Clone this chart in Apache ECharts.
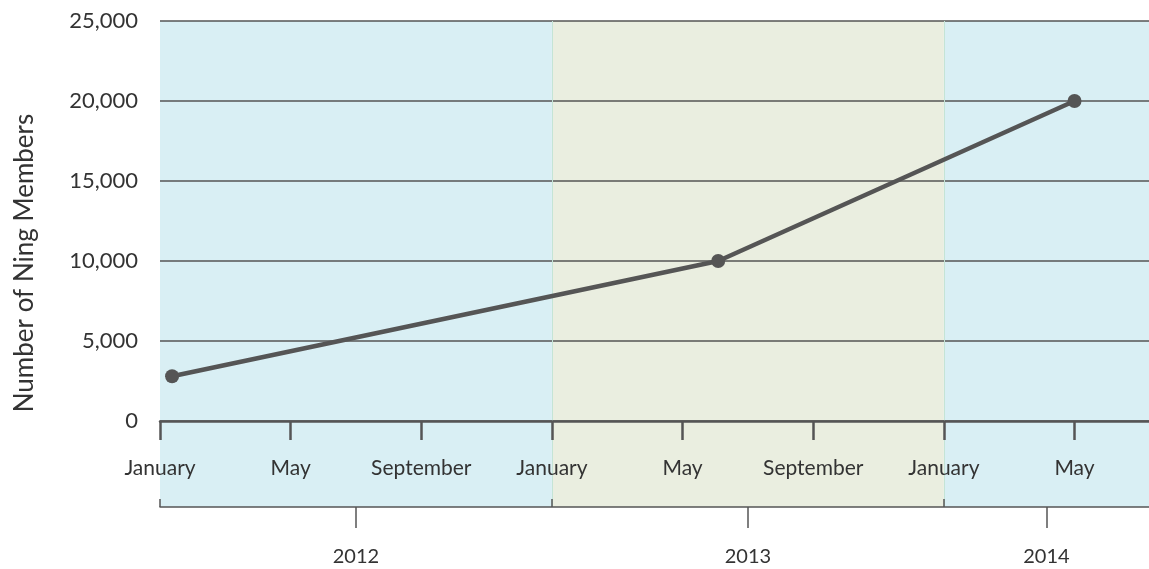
<!DOCTYPE html>
<html>
<head>
<meta charset="utf-8">
<script src="https://cdn.jsdelivr.net/npm/echarts@6/dist/echarts.min.js"></script>
<style>
  html, body { margin: 0; padding: 0; background: #fff; }
  #chart { width: 1149px; height: 569px; }
</style>
</head>
<body>
<div id="chart"></div>
<script>
// months counted from January 2012
const monthTicks = [0, 4, 8, 12, 16, 20, 24, 28]
const monthNames = ['January', 'May', 'September']
const years = ['2012', '2013', '2014']
const yearStart = [0, 12, 24]
const yearEnd = [12, 24, 30.28]
const bandColors = ['#d9eff4', '#eaeee0', '#d9eff4']
const pointMonths = [0.37, 17.09, 28]
const members = [2800, 10000, 20000]

const FONT = 'Lato, "Open Sans", sans-serif'
const INK = '#555555'
const TEXT = '#333333'
const xMax = yearEnd[yearEnd.length - 1]
const yearCenters = years.map((_, i) => (yearStart[i] + yearEnd[i]) / 2)

const bands = years.map((_, i) => [
  { xAxis: yearStart[i], itemStyle: { color: bandColors[i] } },
  { xAxis: yearEnd[i] }
])
const boundaries = yearStart.slice(1).map(v => ({ xAxis: v }))

const fmtNum = v => String(v).replace(/\B(?=(\d{3})+(?!\d))/g, ',')

const bandSeries = (xi, yi) => ({
  type: 'line', xAxisIndex: xi, yAxisIndex: yi, data: [], z: 1, silent: true,
  markArea: { silent: true, data: bands },
  markLine: {
    silent: true, symbol: 'none', label: { show: false },
    lineStyle: { color: '#c4e4d6', width: 1, type: 'solid' }, data: boundaries
  }
})

const chart = echarts.init(document.getElementById('chart'))
chart.setOption({
  animation: false,
  grid: [
    { left: 160, width: 989, top: 21, height: 400 },
    { left: 160, width: 989, top: 421, height: 86 }
  ],
  xAxis: [
    {
      gridIndex: 0, type: 'value', min: 0, max: xMax, z: 5,
      splitLine: { show: false },
      axisLine: { show: true, onZero: false, lineStyle: { color: INK, width: 2.5 } },
      axisTick: { show: true, inside: false, length: 19, customValues: monthTicks, lineStyle: { color: INK, width: 2.5 } },
      axisLabel: {
        customValues: monthTicks, margin: 37, color: TEXT, fontFamily: FONT, fontSize: 21,
        formatter: v => monthNames[Math.round(v / 4) % 3]
      }
    },
    {
      gridIndex: 1, type: 'value', min: 0, max: xMax, z: 5, position: 'bottom',
      splitLine: { show: false },
      axisLine: { show: true, onZero: false, lineStyle: { color: INK, width: 1.5 } },
      axisTick: { show: true, inside: false, length: 21, customValues: yearCenters, lineStyle: { color: INK, width: 1.5 } },
      axisLabel: {
        customValues: yearCenters, margin: 40, color: TEXT, fontFamily: FONT, fontSize: 20,
        formatter: v => years[yearCenters.findIndex(c => Math.abs(c - v) < 0.01)]
      }
    },
    {
      gridIndex: 1, type: 'value', min: 0, max: xMax, z: 5, position: 'bottom',
      splitLine: { show: false },
      axisLine: { show: false },
      axisTick: { show: true, inside: true, length: 8, customValues: yearStart, lineStyle: { color: INK, width: 1.5 } },
      axisLabel: { show: false }
    }
  ],
  yAxis: [
    {
      gridIndex: 0, type: 'value', min: 0, max: 25000, interval: 5000, z: 5,
      name: 'Number of Ning Members', nameLocation: 'middle', nameGap: 122,
      nameTextStyle: { color: TEXT, fontFamily: FONT, fontSize: 26, padding: [0, 84, 0, 0] },
      axisLine: { show: false },
      axisTick: { show: false },
      splitLine: { show: true, lineStyle: { color: INK, width: 1.5 } },
      axisLabel: { color: TEXT, fontFamily: FONT, fontSize: 22, margin: 22, formatter: fmtNum }
    },
    {
      gridIndex: 1, type: 'value', min: 0, max: 1, show: false
    }
  ],
  series: [
    bandSeries(0, 0),
    bandSeries(1, 1),
    {
      name: 'Ning Members',
      type: 'line', xAxisIndex: 0, yAxisIndex: 0, z: 10,
      data: pointMonths.map((m, i) => [m, members[i]]),
      symbol: 'circle', symbolSize: 14,
      lineStyle: { color: INK, width: 4.5 },
      itemStyle: { color: INK }
    }
  ]
})
</script>
</body>
</html>
